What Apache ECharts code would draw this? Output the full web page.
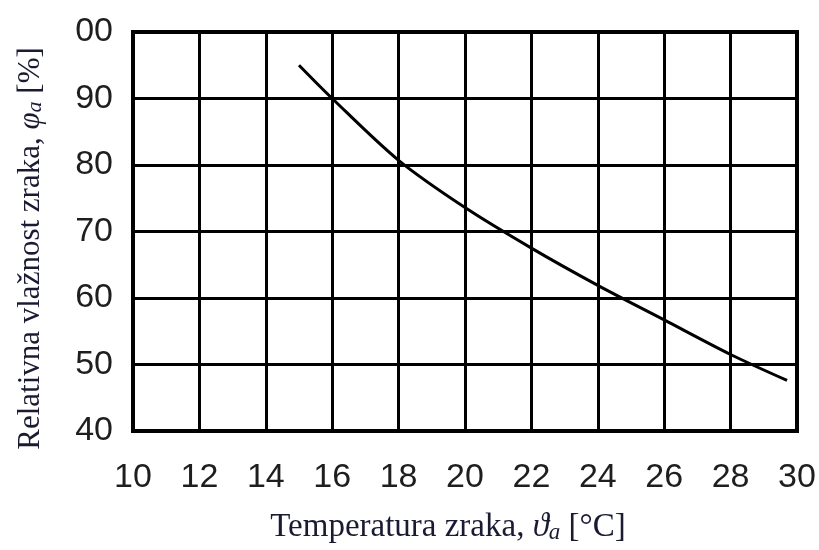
<!DOCTYPE html>
<html>
<head>
<meta charset="utf-8">
<script src="https://cdn.jsdelivr.net/npm/echarts@6/dist/echarts.min.js"></script>
<style>html,body{margin:0;padding:0;background:#fff}#c{width:819px;height:550px}</style>
</head>
<body>
<div id="c"></div>
<script>
// Data
const temperature = [15, 16, 18, 20, 22, 24, 26, 28, 29.7];
const humidity = [95, 90, 80.7, 73.6, 67.5, 61.9, 56.7, 51.5, 47.6];
const xTicks = { min: 10, max: 30, interval: 2 };
const yTicks = { min: 40, max: 100, interval: 10 };
const xName = 'Temperatura zraka, {it|ϑ}{sub|a} [°C]';
const yName = 'Relativna vlažnost zraka, {it|φ}{sub|a} [%]';

const chart = echarts.init(document.getElementById('c'), null, { renderer: 'canvas' });
const richName = {
  it: { fontFamily: 'Liberation Serif', fontStyle: 'italic', fontSize: 33, color: '#1a1a33' },
  sub: { fontFamily: 'Liberation Serif', fontStyle: 'italic', fontSize: 23, color: '#1a1a33', verticalAlign: 'bottom', lineHeight: 27 }
};
chart.setOption({
  animation: false,
  backgroundColor: '#fff',
  grid: { left: 133, right: 22, top: 32, bottom: 119, show: true, borderColor: '#000', borderWidth: 4,
    containLabel: false, outerBoundsMode: 'none' },
  xAxis: {
    type: 'value', min: xTicks.min, max: xTicks.max, interval: xTicks.interval,
    axisLine: { show: false },
    axisTick: { show: false },
    axisLabel: { fontFamily: 'Liberation Sans', fontSize: 34, color: '#1e1e1e', margin: 30 },
    splitLine: { show: true, lineStyle: { color: '#000', width: 3 } },
    name: xName, nameLocation: 'middle', nameGap: 80,
    nameTextStyle: { fontFamily: 'Liberation Serif', fontSize: 33, color: '#1a1a33', padding: [0, 34, 0, 0], rich: richName }
  },
  yAxis: {
    type: 'value', min: yTicks.min, max: yTicks.max, interval: yTicks.interval,
    axisLine: { show: false },
    axisTick: { show: false },
    axisLabel: { fontFamily: 'Liberation Sans', fontSize: 34, color: '#1e1e1e', margin: 20,
      formatter: v => v === 100 ? '00' : String(v) },
    splitLine: { show: true, lineStyle: { color: '#000', width: 3 } },
    name: yName, nameLocation: 'middle', nameGap: 87, nameRotate: 90,
    nameTextStyle: { fontFamily: 'Liberation Serif', fontSize: 31, color: '#1a1a33', padding: [0, 34, 0, 0], rich: {
      it: { fontFamily: 'Liberation Serif', fontStyle: 'italic', fontSize: 31, color: '#1a1a33' },
      sub: { fontFamily: 'Liberation Serif', fontStyle: 'italic', fontSize: 22, color: '#1a1a33', verticalAlign: 'bottom', lineHeight: 25 }
    } }
  },
  series: [{
    type: 'line',
    data: temperature.map((t, i) => [t, humidity[i]]),
    smooth: 0.3,
    showSymbol: false,
    lineStyle: { color: '#000', width: 3 }
  }]
});
</script>
</body>
</html>
